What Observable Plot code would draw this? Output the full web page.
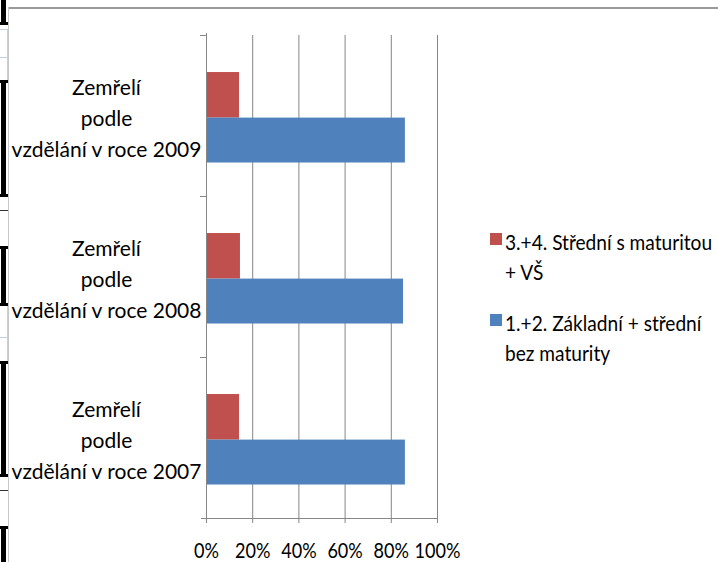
<!DOCTYPE html>
<html><head><meta charset="utf-8">
<script src="https://cdn.jsdelivr.net/npm/d3@7"></script>
<script src="https://cdn.jsdelivr.net/npm/@observablehq/plot@0.6"></script>
<style>
body{margin:0;background:#fff;}
#wrap{position:relative;width:718px;height:562px;overflow:hidden;background:#fff;font-family:Lato,sans-serif;}
#wrap svg{position:absolute;left:0;top:0;}
.deco{position:absolute;}
#legend{position:absolute;left:490px;top:227px;width:226px;font-size:21px;line-height:30px;color:#000;}
.item{display:flex;align-items:flex-start;margin-bottom:21px;}
.sw{width:12px;height:12px;flex:none;margin-top:6px;margin-right:3px;}
.lt{width:232px;flex:none;transform:scaleX(0.91);transform-origin:left top;}
</style></head><body><div id="wrap"></div>
<script>
// ---- data ----
const years = ["2009", "2008", "2007"];
const categoryLabels = ["Zemřelí\npodle\nvzdělání v roce 2009", "Zemřelí\npodle\nvzdělání v roce 2008", "Zemřelí\npodle\nvzdělání v roce 2007"];
const series = ["3.+4. Střední s maturitou + VŠ", "1.+2. Základní + střední bez maturity"];
const seriesColors = ["#C0504D", "#4F81BD"];
const highEdu = [0.143, 0.147, 0.143];   // 3.+4.
const lowEdu = [0.861, 0.853, 0.861];    // 1.+2.
const xTicks = [0, 0.2, 0.4, 0.6, 0.8, 1];

const rows = [];
years.forEach((y, i) => {
  rows.push({year: y, series: series[0], value: highEdu[i]});
  rows.push({year: y, series: series[1], value: lowEdu[i]});
});

const W = 718, H = 562, mL = 206, mR = 281, mT = 35, mB = 44;
const band = (H - mT - mB) / years.length;
const grid = "#868686";
const FONT = "Lato, sans-serif";

const plot = Plot.plot({
  width: W, height: H, marginLeft: mL, marginRight: mR, marginTop: mT, marginBottom: mB,
  style: {fontFamily: FONT, fontSize: "21px", color: "#000", background: "transparent", overflow: "visible"},
  x: {domain: [0, 1], axis: null},
  y: {domain: years, padding: 0, axis: null},
  color: {domain: series, range: seriesColors},
  marks: [
    Plot.gridX(xTicks.slice(1), {stroke: grid, strokeOpacity: 1}),
    Plot.barX(rows.filter(d => d.series === series[0]), {x: "value", y: "year", fill: "series", insetTop: band * 0.23, insetBottom: band * 0.487}),
    Plot.barX(rows.filter(d => d.series === series[1]), {x: "value", y: "year", fill: "series", insetTop: band * 0.513, insetBottom: band * 0.208}),
    Plot.ruleX([0], {stroke: grid, insetTop: -2}),
    Plot.ruleY(years, {y: d => d, x1: 0, x2: 0, dy: -band / 2, insetLeft: -6, stroke: grid}),
    Plot.ruleY([years[years.length - 1]], {y: d => d, dy: band / 2, insetLeft: -5, stroke: grid}),
    Plot.axisX(xTicks, {anchor: "bottom", label: null, tickFormat: d3.format(".0%"), tickSize: 5, tickPadding: 20, stroke: grid, fontSize: 21}),
    Plot.text(years, {y: d => d, text: (d, i) => categoryLabels[i], frameAnchor: "left", dx: -100, textAnchor: "middle", lineHeight: 1.48, fontSize: 21, fill: "#000", ariaLabel: "category-label"})
  ]
});

// condense the text horizontally (narrow, Calibri-like look), keeping anchors in place
function condense(sel, f) {
  plot.querySelectorAll(sel).forEach(el => {
    el.setAttribute("transform", (el.getAttribute("transform") || "") + ` scale(${f},1)`);
  });
}
condense('g[aria-label="category-label"] text', 0.85);
condense('g[aria-label="x-axis tick label"] text', 0.86);

const wrap = document.getElementById("wrap");
// spreadsheet / chart-border decorations
const deco = [
  [8, 7, 710, 2, "#9a9a9a"], [8, 7, 1, 555, "#c8c8c8"],
  [1, 0, 5, 25, "#000"], [0, 22, 8, 3, "#000"],
  [0, 29, 8, 1, "#c3cfe2"], [0, 57, 8, 1, "#c3cfe2"], [7, 29, 1, 53, "#c3cfe2"],
  [0, 80, 8, 3, "#000"], [1, 80, 5, 115, "#000"], [0, 194, 8, 3, "#000"],
  [0, 210, 8, 1, "#333"], [0, 246, 8, 3, "#000"], [1, 246, 5, 59, "#000"],
  [0, 303, 8, 3, "#000"], [0, 337, 8, 1, "#c3cfe2"], [7, 306, 1, 56, "#c3cfe2"],
  [0, 361, 8, 3, "#000"], [1, 361, 5, 115, "#000"], [0, 474, 8, 3, "#000"],
  [0, 490, 8, 1, "#333"], [0, 526, 8, 3, "#000"], [1, 526, 5, 36, "#000"]
];
deco.forEach(([x, y, w, h, c]) => {
  const d = document.createElement("div");
  d.className = "deco";
  Object.assign(d.style, {left: x + "px", top: y + "px", width: w + "px", height: h + "px", background: c});
  wrap.appendChild(d);
});
wrap.appendChild(plot);

const legend = document.createElement("div");
legend.id = "legend";
series.forEach((s, i) => {
  const it = document.createElement("div");
  it.className = "item";
  const sw = document.createElement("div");
  sw.className = "sw";
  sw.style.background = seriesColors[i];
  const t = document.createElement("div");
  t.className = "lt";
  t.textContent = s;
  it.appendChild(sw); it.appendChild(t);
  legend.appendChild(it);
});
wrap.appendChild(legend);
</script>
</body></html>
